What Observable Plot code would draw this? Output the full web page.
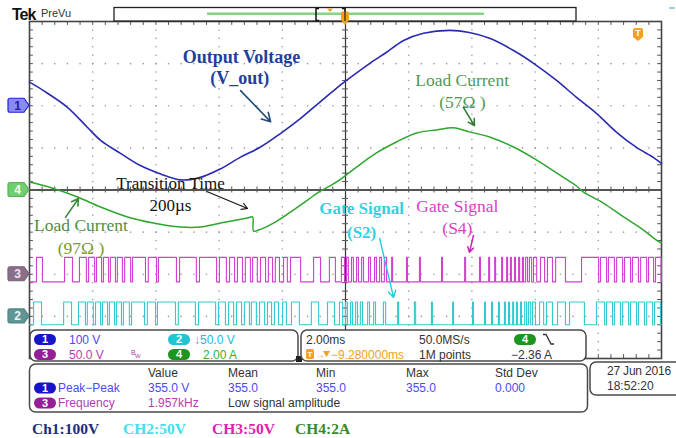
<!DOCTYPE html>
<html>
<head>
<meta charset="utf-8">
<script src="https://cdn.jsdelivr.net/npm/d3@7"></script>
<script src="https://cdn.jsdelivr.net/npm/@observablehq/plot@0.6"></script>
<style>
  body { margin: 0; background: #fff; }
  #scope { width: 676px; height: 438px; overflow: hidden; }
</style>
</head>
<body>
<div id="scope"></div>
<script>
// ---- Acquisition: 10 divisions at 2 ms/div, trigger at 0 ms ----
// Ch1: output voltage (V)
const vOutTime  = [-10.0, -9.56, -8.81, -8.17, -7.75, -7.12, -6.49, -5.85, -5.22, -4.59, -3.96, -3.32, -2.69, -2.06, -1.42, -0.79, -0.28, 0.03, 0.76, 1.30, 1.84, 2.47, 3.29, 3.92, 4.56, 5.32, 6.04, 6.68, 7.31, 7.94, 8.58, 9.21, 9.75, 10.0];
const vOutVolts = [56, 36, -3, -51, -82, -113, -142, -162, -176, -170, -150, -122, -98, -66, -30, 10, 42, 60, 100, 127, 155, 172, 179, 174, 160, 131, 96, 60, 20, -18, -63, -99, -123, -137];

// Ch4: load current (A), with the 200 µs load transition near -2.9 ms
const iLoadTime = [-10.0, -9.34, -8.48, -7.75, -6.90, -6.08, -5.22, -4.59, -3.96, -3.10, -2.94, -2.91, -2.75, -2.28, -1.65, -1.20, -0.85, -0.28, 0.35, 0.98, 1.61, 2.25, 2.88, 3.42, 3.92, 4.56, 5.32, 6.04, 6.68, 7.31, 7.53, 8.16, 8.80, 9.43, 9.84, 10.0];
const iLoadAmps = [0.38, 0.12, -0.33, -0.81, -1.28, -1.57, -1.76, -1.76, -1.57, -1.33, -1.28, -1.95, -1.90, -1.57, -0.95, -0.48, -0.10, 0.38, 1.09, 1.76, 2.28, 2.71, 2.85, 2.95, 2.76, 2.52, 2.04, 1.43, 0.81, 0.19, -0.10, -0.62, -1.28, -1.90, -2.38, -2.52];

// Ch3: gate signal S4, on-intervals [start, end] in ms
const s4On = [[-9.78,-9.59],[-8.89,-8.64],[-8.42,-8.20],[-8.13,-7.94],[-7.88,-7.72],[-7.66,-7.50],[-7.44,-7.28],[-7.22,-7.06],[-6.99,-6.80],[-6.74,-6.33],[-6.24,-5.98],[-5.92,-5.35],[-5.25,-4.72],[-4.62,-4.08],[-3.99,-3.77],[-3.67,-3.51],[-3.42,-3.26],[-3.17,-3.01],[-2.94,-2.79],[-2.69,-2.53],[-2.44,-2.31],[-2.22,-2.09],[-1.96,-1.84],[-1.74,-1.42],[-1.01,-0.79],[-0.51,-0.32],[-0.13,-0.03],
  [0.03,0.09],[0.19,0.25],[0.35,0.41],[0.51,0.57],[0.73,0.79],[0.92,0.98],[1.08,1.14],[1.23,1.30],[1.46,1.49],[1.93,1.96],[2.34,2.37],[3.04,3.07],[3.77,3.80],[4.24,4.27],[4.53,4.56],[4.72,4.75],[4.94,4.97],[5.10,5.13],[5.22,5.25],[5.35,5.38],[5.48,5.51],[5.60,5.63],[5.70,5.76],[5.82,5.89],[5.95,6.05],[6.17,6.30],[6.39,6.55],[6.65,6.96],[7.47,8.01],[8.07,8.26],[8.32,8.51],[8.58,8.77],[8.83,9.02],[9.08,9.27],[9.34,9.53],[9.59,9.75],[9.81,9.99]];

// Ch2: gate signal S2, on-intervals [start, end] in ms
const s2On = [[-9.87,-9.62],[-8.92,-8.67],[-8.45,-8.23],[-8.17,-7.98],[-7.91,-7.75],[-7.69,-7.53],[-7.47,-7.31],[-7.25,-7.09],[-7.03,-6.84],[-6.77,-6.36],[-6.27,-6.01],[-5.95,-5.38],[-5.29,-4.75],[-4.65,-4.11],[-4.02,-3.80],[-3.70,-3.54],[-3.45,-3.29],[-3.20,-3.04],[-2.98,-2.82],[-2.72,-2.56],[-2.47,-2.34],[-2.25,-2.12],[-1.99,-1.87],[-1.71,-1.46],[-1.08,-0.85],[-0.57,-0.35],[-0.19,-0.09],
  [0.00,0.06],[0.16,0.22],[0.32,0.38],[0.47,0.54],[0.70,0.76],[0.89,0.95],[1.20,1.27],[1.65,1.68],[2.18,2.22],[2.72,2.75],[3.39,3.42],[4.02,4.05],[4.40,4.43],[4.62,4.65],[4.84,4.87],[5.03,5.06],[5.16,5.19],[5.29,5.32],[5.41,5.44],[5.54,5.57],[5.67,5.73],[5.79,5.86],[5.92,6.01],[6.14,6.27],[6.36,6.55],[6.71,6.96],[7.09,7.56],[7.94,8.20],[8.26,8.45],[8.51,8.70],[8.77,8.96],[9.02,9.21],[9.27,9.46],[9.53,9.72],[9.78,9.97]];

// Gate drive levels (V): [off, on]
const s4Levels = [-9, 20];
const s2Levels = [-10, 17];

// Vertical settings: units per division and ground offset (divisions from centre)
const ch1Scale = 100, ch2Scale = 50, ch3Scale = 50, ch4Scale = 2;
const ch1Offset = 2, ch2Offset = -3, ch3Offset = -2, ch4Offset = 0;

// Readouts
const measureHeads = ["Value", "Mean", "Min", "Max", "Std Dev"];
const peakRow = ["355.0 V", "355.0", "355.0", "355.0", "0.000"];
const freqRow = ["1.957kHz", "Low signal amplitude"];
const legendLabels = ["Ch1:100V", "CH2:50V", "CH3:50V", "CH4:2A"];

// ---- Build series ----
const ch1 = vOutTime.map((t, i) => ({t, div: ch1Offset + vOutVolts[i] / ch1Scale}));
const ch4 = iLoadTime.map((t, i) => ({t, div: ch4Offset + iLoadAmps[i] / ch4Scale}));
function gateWave(on, [lo, hi], offset, scale) {
  const pts = [{t: -10, v: lo}];
  for (const [a, b] of on) pts.push({t: a, v: lo}, {t: a, v: hi}, {t: b, v: hi}, {t: b, v: lo});
  pts.push({t: 10, v: lo});
  return pts.map(p => ({t: p.t, div: offset + p.v / scale}));
}
const ch3 = gateWave(s4On, s4Levels, ch3Offset, ch3Scale);
const ch2 = gateWave(s2On, s2Levels, ch2Offset, ch2Scale);

// ---- Graticule ----
const PXX = 31.6, PXY = 42.125;            // pixels per ms, pixels per division
const majorX = d3.range(-8, 9, 2).filter(d => d !== 0);
const majorY = d3.range(-3, 4, 1).filter(d => d !== 0);
const minorX = d3.range(1, 50).map(k => -10 + k * 0.4);
const minorY = d3.range(1, 40).map(k => -4 + k * 0.2);
const gridDots = [
  ...majorX.flatMap(x => minorY.map(y => ({x, y}))),
  ...majorY.flatMap(y => minorX.map(x => ({x, y})))
];
const tkY = 3 / PXY, tkX = 3 / PXX;

const SERIF = "Liberation Serif, Times New Roman, serif";
const SANS = "Liberation Sans, Arial, sans-serif";

const plot = Plot.plot({
  width: 676, height: 438,
  marginLeft: 29, marginRight: 15, marginTop: 21, marginBottom: 80,
  x: {domain: [-10, 10], axis: null},
  y: {domain: [-4, 4], axis: null},
  style: {background: "#fff"},
  marks: [
    Plot.dot(gridDots, {x: "x", y: "y", r: 0.8, fill: "#9a9a9a", stroke: null}),
    Plot.ruleY([0], {stroke: "#555", strokeWidth: 1.8}),
    Plot.ruleX([0], {stroke: "#333", strokeWidth: 1.2}),
    Plot.ruleX(minorX, {y1: -tkY, y2: tkY, stroke: "#555"}),
    Plot.ruleY(minorY, {x1: -tkX, x2: tkX, stroke: "#555"}),
    Plot.ruleX(minorX, {y1: 4, y2: 4 - tkY * 1.3, stroke: "#555"}),
    Plot.ruleX(minorX, {y1: -4, y2: -4 + tkY * 1.3, stroke: "#555"}),
    Plot.ruleY(minorY, {x1: -10, x2: -10 + tkX * 1.3, stroke: "#555"}),
    Plot.ruleY(minorY, {x1: 10, x2: 10 - tkX * 1.3, stroke: "#555"}),
    Plot.frame({stroke: "#444", strokeWidth: 1.6}),

    // Traces
    Plot.line(ch2, {x: "t", y: "div", stroke: "#33c9cf", strokeWidth: 1.1}),
    Plot.line(ch3, {x: "t", y: "div", stroke: "#d23fd2", strokeWidth: 1.1}),
    Plot.line(ch4, {x: "t", y: "div", stroke: "#2ea62e", strokeWidth: 1.5, curve: "catmull-rom"}),
    Plot.line(ch1, {x: "t", y: "div", stroke: "#2a2ab0", strokeWidth: 1.6, curve: "catmull-rom"}),

    // Annotations
    Plot.text(["Output Voltage"], {x: -3.29, y: 3.15, fill: "#1f3f9f", fontFamily: SERIF, fontWeight: "bold", fontSize: 18}),
    Plot.text(["(V_out)"], {x: -3.35, y: 2.65, fill: "#1f3f9f", fontFamily: SERIF, fontWeight: "bold", fontSize: 18}),
    Plot.arrow([0], {x1: -3.32, y1: 2.36, x2: -2.37, y2: 1.62, stroke: "#1f4a7a", strokeWidth: 1.6, headLength: 9}),

    Plot.text(["Load Current"], {x: 3.69, y: 2.60, fill: "#4e9a55", fontFamily: SERIF, fontSize: 17.5}),
    Plot.text(["(57Ω )"], {x: 3.70, y: 2.08, fill: "#4e9a55", fontFamily: SERIF, fontSize: 17.5}),
    Plot.arrow([0], {x1: 3.73, y1: 1.96, x2: 4.08, y2: 1.53, stroke: "#2e7d32", strokeWidth: 1.6, headLength: 8}),

    Plot.text(["Transition Time"], {x: -5.54, y: 0.15, fill: "#111", fontFamily: SERIF, fontSize: 17}),
    Plot.text(["200µs"], {x: -5.54, y: -0.37, fill: "#111", fontFamily: SERIF, fontSize: 17}),
    Plot.arrow([0], {x1: -4.37, y1: -0.04, x2: -3.10, y2: -0.44, stroke: "#111", strokeWidth: 1.1, headLength: 9}),

    Plot.text(["Load Current"], {x: -8.37, y: -0.84, fill: "#4f8f3e", fontFamily: SERIF, fontSize: 17.5}),
    Plot.text(["(97Ω )"], {x: -8.37, y: -1.39, fill: "#7a9a35", fontFamily: SERIF, fontSize: 17.5}),
    Plot.arrow([0], {x1: -8.86, y1: -0.65, x2: -8.45, y2: -0.20, stroke: "#3a8a3a", strokeWidth: 1.6, headLength: 8}),

    Plot.text(["Gate Signal"], {x: 0.51, y: -0.44, fill: "#2fd3e3", fontFamily: SERIF, fontWeight: "bold", fontSize: 17}),
    Plot.text(["(S2)"], {x: 0.51, y: -1.01, fill: "#2fd3e3", fontFamily: SERIF, fontWeight: "bold", fontSize: 17}),
    Plot.arrow([0], {x1: 1.08, y1: -1.15, x2: 1.52, y2: -2.55, stroke: "#22ccdd", strokeWidth: 1.4, headLength: 8}),

    Plot.text(["Gate Signal"], {x: 3.54, y: -0.39, fill: "#e03cc8", fontFamily: SERIF, fontSize: 17.5}),
    Plot.text(["(S4)"], {x: 3.54, y: -0.91, fill: "#e03cc8", fontFamily: SERIF, fontSize: 17.5}),
    Plot.arrow([0], {x1: 4.05, y1: -1.08, x2: 3.92, y2: -1.48, stroke: "#cc22bb", strokeWidth: 1.5, headLength: 7})
  ]
});
document.getElementById("scope").append(plot);

// ---- Instrument chrome drawn on top of the plot ----
const svg = d3.select(plot);
const sx = v => plot.scale("x").apply(v);
const sy = v => plot.scale("y").apply(v);
const g = svg.append("g").attr("text-anchor", "start");

function txt(x, y, s, color, opts = {}) {
  return g.append("text")
    .attr("x", x).attr("y", y).attr("dy", "0.36em")
    .attr("text-anchor", opts.anchor || "start")
    .attr("font-family", opts.family || SANS)
    .attr("font-size", opts.size || 12)
    .attr("font-weight", opts.weight || "normal")
    .attr("letter-spacing", opts.spacing || 0)
    .attr("fill", color).text(s);
}
function pill(x, y, num, fill) {
  g.append("rect").attr("x", x).attr("y", y - 5.5).attr("width", 22).attr("height", 11)
    .attr("rx", 5.5).attr("fill", fill);
  txt(x + 11, y, num, "#fff", {anchor: "middle", size: 11, weight: "bold"});
}
function panel(x, y, w, h) {
  g.append("rect").attr("x", x).attr("y", y).attr("width", w).attr("height", h)
    .attr("rx", 6).attr("fill", "#fff").attr("stroke", "#4a4a4a").attr("stroke-width", 1.5);
}

// Header
txt(12, 14, "Tek", "#111", {size: 16, weight: "bold", spacing: -1});
txt(41, 13.5, "PreVu", "#333", {size: 11});
g.append("rect").attr("x", 114).attr("y", 7.5).attr("width", 462).attr("height", 13.5)
  .attr("fill", "#fff").attr("stroke", "#222").attr("stroke-width", 1.3);
g.append("line").attr("x1", 207).attr("x2", 484).attr("y1", 13.8).attr("y2", 13.8)
  .attr("stroke", "#86d286").attr("stroke-width", 2.4);
g.append("path").attr("d", "M319,8.5 H316 V20.5 H319 M342,8.5 H345 V20.5 H342")
  .attr("fill", "none").attr("stroke", "#111").attr("stroke-width", 1.5);
g.append("path").attr("d", "M327,8.5 L333,8.5 L330,12 Z").attr("fill", "#f0a030");
const tx = sx(0);
g.append("path").attr("d", `M${tx-4},13 Q${tx-4},11.5 ${tx-2.5},11.5 H${tx+2.5} Q${tx+4},11.5 ${tx+4},13 V20 L${tx},25 L${tx-4},20 Z`)
  .attr("fill", "#f5a020");
g.append("line").attr("x1", tx).attr("x2", tx).attr("y1", 8).attr("y2", 21).attr("stroke", "#222").attr("stroke-width", 1.2);
g.append("line").attr("x1", 669).attr("x2", 675).attr("y1", 8).attr("y2", 8).attr("stroke", "#3aa0a8").attr("stroke-width", 1);

// Trigger level icon (top right of the graticule)
g.append("path").attr("d", "M633,30 Q633,28 635,28 H641 Q643,28 643,30 V37 L638,41 L633,37 Z").attr("fill", "#f5a020");
txt(638, 33, "T", "#fff", {anchor: "middle", size: 9, weight: "bold"});

// Channel ground markers
function marker(y, num, fill, stroke, color) {
  g.append("path").attr("d", `M10,${y-7} H24 L29,${y} L24,${y+7} H10 Q8,${y+7} 8,${y+5} V${y-5} Q8,${y-7} 10,${y-7} Z`)
    .attr("fill", fill).attr("stroke", stroke).attr("stroke-width", 1.2);
  txt(17.5, y, num, color, {anchor: "middle", size: 12, weight: "bold"});
}
marker(sy(ch1Offset), "1", "#8a8af5", "#2323d0", "#2020a0");
marker(sy(ch4Offset), "4", "#6fcf6f", "#58b058", "#f4fff4");
marker(sy(ch3Offset), "3", "#8a6f8a", "#7a607a", "#efe4ef");
marker(sy(ch2Offset), "2", "#5f9595", "#4f8585", "#e8f6f6");

// Vertical settings panel
panel(30, 330, 268, 31);
g.append("rect").attr("x", 296).attr("y", 356).attr("width", 6).attr("height", 6).attr("fill", "#222");
pill(34, 339.5, "1", "#1616c8"); txt(69, 339.5, "100 V", "#4b4bef");
pill(168, 339.5, "2", "#22c4d4"); txt(194, 339.5, "↓50.0 V", "#22bccc");
pill(34, 354.5, "3", "#961e96"); txt(69, 354.5, "50.0 V", "#b43cb4");
txt(131, 352, "B", "#b43cb4", {size: 7}); txt(135, 356, "W", "#b43cb4", {size: 6});
pill(168, 354.5, "4", "#1e961e"); txt(203, 354.5, "2.00 A", "#2db42d");

// Horizontal / trigger panel
panel(301, 330, 285, 31);
txt(306, 339.5, "2.00ms", "#333");
txt(419, 339.5, "50.0MS/s", "#333");
pill(514, 339.5, "4", "#1e961e");
g.append("path").attr("d", "M543,334.5 H546 L551,344 H554").attr("fill", "none").attr("stroke", "#333").attr("stroke-width", 1.3);
g.append("rect").attr("x", 306).attr("y", 349).attr("width", 8).attr("height", 10).attr("rx", 1.5).attr("fill", "#f5a020");
txt(310, 354.5, "T", "#fff", {anchor: "middle", size: 8, weight: "bold"});
txt(315, 354.5, "→", "#f5a020", {size: 10});
g.append("path").attr("d", "M323,351 L330,351 L326.5,357 Z").attr("fill", "#f5a020");
txt(331, 354.5, "−9.280000ms", "#f5a020");
txt(419, 354.5, "1M points", "#333");
txt(511, 354.5, "−2.36 A", "#333");

// Measurement panel
panel(29.5, 364, 558, 48);
const colX = [148, 228, 316, 406, 495];
measureHeads.forEach((h, i) => txt(colX[i], 373, h, "#333"));
pill(34, 388, "1", "#1616c8"); txt(58, 388, "Peak−Peak", "#4b4bef");
peakRow.forEach((v, i) => txt(colX[i], 388, v, "#4b4bef"));
pill(34, 403, "3", "#961e96"); txt(58, 403, "Frequency", "#b43cb4");
txt(colX[0], 403, freqRow[0], "#b43cb4");
txt(colX[1], 403, freqRow[1], "#333");

// Date panel
panel(590, 362, 100, 33);
txt(607, 371, "27 Jun 2016", "#333", {spacing: -0.2});
txt(607, 386, "18:52:20", "#333");

// Channel scale legend
const legendX = [32, 123, 212, 295];
const legendColors = ["#1a2e80", "#44e0ee", "#e020b0", "#3a8a2a"];
legendLabels.forEach((s, i) =>
  g.append("text").attr("x", legendX[i]).attr("y", 434).attr("text-anchor", "start")
    .attr("font-family", SERIF).attr("font-size", 15.5).attr("font-weight", "bold")
    .attr("fill", legendColors[i]).text(s));
</script>
</body>
</html>
